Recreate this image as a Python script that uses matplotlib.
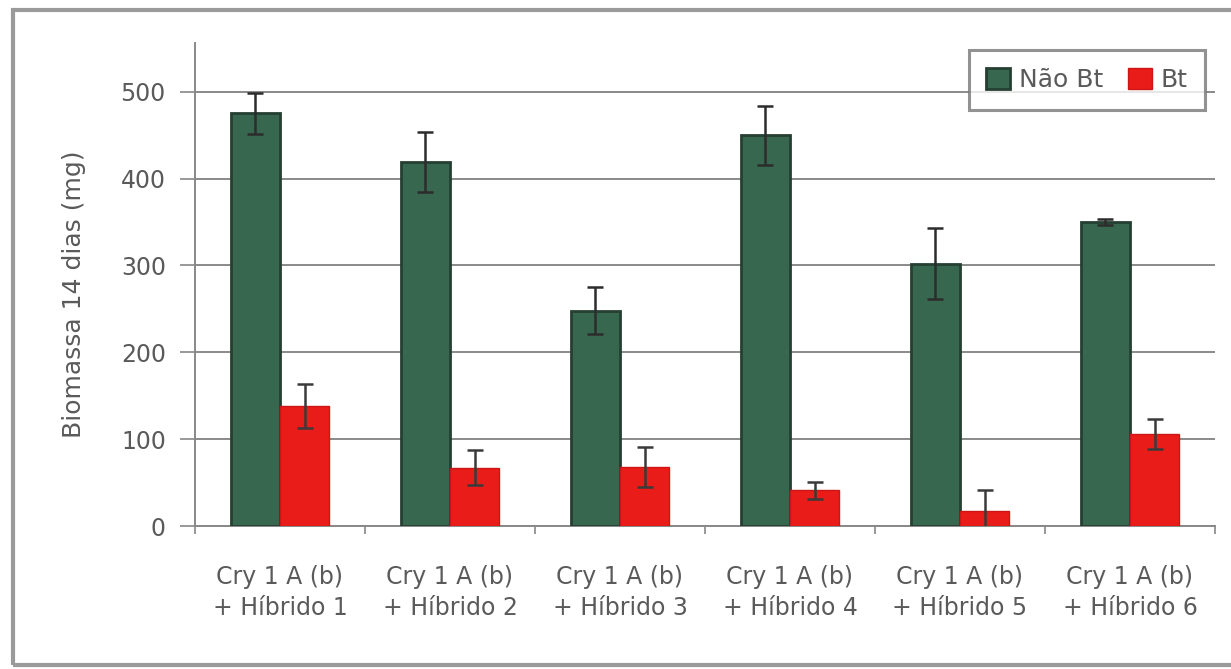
import matplotlib
matplotlib.use("Agg")
import matplotlib.pyplot as plt
import matplotlib.patches as mpatches
import numpy as np

plt.rcParams['font.family'] = ['DejaVu Sans']

categories = ["Cry 1 A (b)\n+ Híbrido 1", "Cry 1 A (b)\n+ Híbrido 2", "Cry 1 A (b)\n+ Híbrido 3",
              "Cry 1 A (b)\n+ Híbrido 4", "Cry 1 A (b)\n+ Híbrido 5", "Cry 1 A (b)\n+ Híbrido 6"]
nao_bt = [475, 419, 248, 450, 302, 350]
nao_bt_err = [24, 35, 27, 34, 41, 3]
bt = [138, 67, 68, 41, 17, 106]
bt_err = [25, 20, 23, 10, 24, 17]
yticks = [0, 100, 200, 300, 400, 500]

green = "#37674f"
red = "#ea1c1a"
text_color = "#5a5a5a"

fig = plt.figure(figsize=(12.31, 6.69), dpi=100)
ax = fig.add_axes([195 / 1231, 1 - 526 / 669, 1020 / 1231, (526 - 43) / 669])

x = np.arange(len(categories))
w = 0.29
ax.bar(x - w / 2, nao_bt, w, color=green, edgecolor="#253f32", linewidth=2.0, zorder=3,
       label="Não Bt")
ax.bar(x + w / 2, bt, w, color=red, edgecolor="#cc1616", linewidth=1.0, zorder=3, label="Bt")
ax.errorbar(x - w / 2, nao_bt, yerr=nao_bt_err, fmt="none", ecolor="#2c2c2c", elinewidth=1.8,
            capsize=6, capthick=1.8, zorder=4)
ax.errorbar(x + w / 2, bt, yerr=bt_err, fmt="none", ecolor="#3a3a3a", elinewidth=1.8,
            capsize=6, capthick=1.8, zorder=4)

ax.set_xlim(-0.5, len(categories) - 0.5)
ax.set_ylim(0, 556)
ax.set_yticks(yticks)
ax.set_yticklabels([str(v) for v in yticks], fontsize=17, color=text_color)
ax.yaxis.grid(True, color="#8a8a8a", linewidth=1.4, zorder=0)
ax.set_axisbelow(True)

# category ticks between groups, labels at centres
ax.set_xticks(np.arange(-0.5, len(categories), 1.0))
ax.set_xticklabels([])
ax.set_xticks(x, minor=True)
ax.set_xticklabels(categories, minor=True, fontsize=17, color=text_color, linespacing=1.35)
ax.tick_params(axis="x", which="minor", length=0, pad=28)
ax.tick_params(axis="x", which="major", length=6, color="#888888", width=1.2)
ax.tick_params(axis="y", length=11, color="#888888", width=1.2, pad=10)

for side in ["top", "right"]:
    ax.spines[side].set_visible(False)
ax.spines["left"].set_color("#888888")
ax.spines["left"].set_linewidth(1.4)
ax.spines["bottom"].set_color("#888888")
ax.spines["bottom"].set_linewidth(1.4)

ax.set_ylabel("Biomassa 14 dias (mg)", fontsize=18, color=text_color)
ax.yaxis.set_label_coords(-0.107, 0.48)

leg = ax.legend(loc="upper right", bbox_to_anchor=(0.99, 0.985), ncol=2, fontsize=18,
                frameon=True, fancybox=False, handlelength=0.95, handleheight=0.95,
                handletextpad=0.35, columnspacing=1.0, borderpad=0.7, borderaxespad=0)
leg.get_frame().set_edgecolor("#777777")
leg.get_frame().set_linewidth(2.2)
for t in leg.get_texts():
    t.set_color(text_color)

# outer chart border
fig.patches.append(mpatches.Rectangle((13 / 1231, 4 / 669), 1.2, (658 - 4) / 669 + 0.001,
                                      transform=fig.transFigure, fill=False,
                                      edgecolor="#9a9a9a", linewidth=3))

fig.savefig("out.png", dpi=100)
